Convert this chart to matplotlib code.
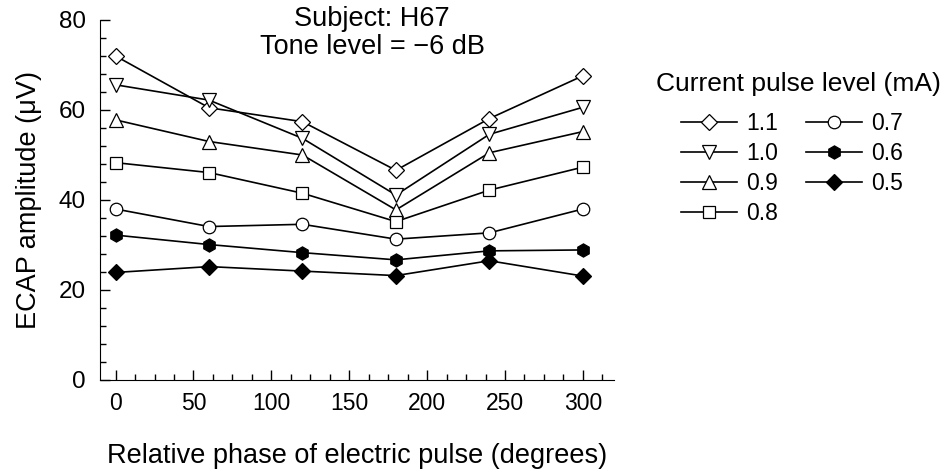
import matplotlib
matplotlib.use("Agg")
import matplotlib.pyplot as plt
from matplotlib.ticker import MultipleLocator

plt.rcParams['font.family'] = ['Liberation Sans', 'DejaVu Sans']

# Data
phase = [0, 60, 120, 180, 240, 300]
levels = ['1.1', '1.0', '0.9', '0.8', '0.7', '0.6', '0.5']
amp_11 = [72.0, 60.5, 57.4, 46.6, 58.1, 67.6]
amp_10 = [65.6, 62.2, 53.7, 41.1, 54.6, 60.6]
amp_09 = [57.8, 53.0, 50.0, 37.8, 50.5, 55.2]
amp_08 = [48.3, 46.1, 41.5, 35.2, 42.2, 47.3]
amp_07 = [38.0, 34.1, 34.6, 31.3, 32.7, 38.0]
amp_06 = [32.2, 30.1, 28.3, 26.7, 28.7, 28.9]
amp_05 = [23.9, 25.2, 24.2, 23.2, 26.5, 23.1]

series = [amp_11, amp_10, amp_09, amp_08, amp_07, amp_06, amp_05]
markers = ['D', 'v', '^', 's', 'o', 'h', 'D']
sizes = [8, 9.5, 9.5, 8.8, 9, 9.5, 8]
faces = ['white'] * 5 + ['black'] * 2

fig = plt.figure(figsize=(9.5, 4.72), dpi=100)
ax = fig.add_axes([100 / 950, 92 / 472, 514 / 950, 360 / 472])

for vals, m, s, fc, lab in zip(series, markers, sizes, faces, levels):
    ax.plot(phase, vals, color='black', lw=1.2, marker=m, markersize=s,
            markerfacecolor=fc, markeredgecolor='black', markeredgewidth=0.9,
            label=lab)

ax.set_xlim(-10, 320)
ax.set_ylim(0, 80)
ax.xaxis.set_major_locator(MultipleLocator(50))
ax.xaxis.set_minor_locator(MultipleLocator(12.5))
ax.yaxis.set_major_locator(MultipleLocator(20))
ax.yaxis.set_minor_locator(MultipleLocator(4))
ax.tick_params(which='both', direction='in')
ax.tick_params(which='major', length=7, width=1)
ax.tick_params(which='minor', length=4, width=1)
ax.tick_params(axis='x', which='major', pad=9, labelsize=16.5)
ax.tick_params(axis='y', which='major', pad=10, labelsize=17.5)
for side in ['top', 'right']:
    ax.spines[side].set_visible(False)

ax.set_xlabel('Relative phase of electric pulse (degrees)', fontsize=19.5, labelpad=20)
ax.set_ylabel('ECAP amplitude (\u03bcV)', fontsize=19.5, labelpad=12)

fig.text(372 / 950, 1 - 6 / 472, 'Subject: H67\nTone level = \u22126 dB',
         ha='center', va='top', fontsize=19.5, linespacing=1.1)

# legend title placed separately, entries in two columns below it
fig.text(798 / 950, 1 - 84 / 472, 'Current pulse level (mA)',
         ha='center', va='center', fontsize=19)
leg = fig.legend(loc='upper left', bbox_to_anchor=(681 / 950, 1 - 112 / 472),
                 ncol=2, frameon=False, fontsize=16.5, borderpad=0, borderaxespad=0,
                 handlelength=2.45, handletextpad=0.4,
                 columnspacing=1.2, labelspacing=0.3, markerscale=1.0)

fig.savefig('out.png', dpi=100)
